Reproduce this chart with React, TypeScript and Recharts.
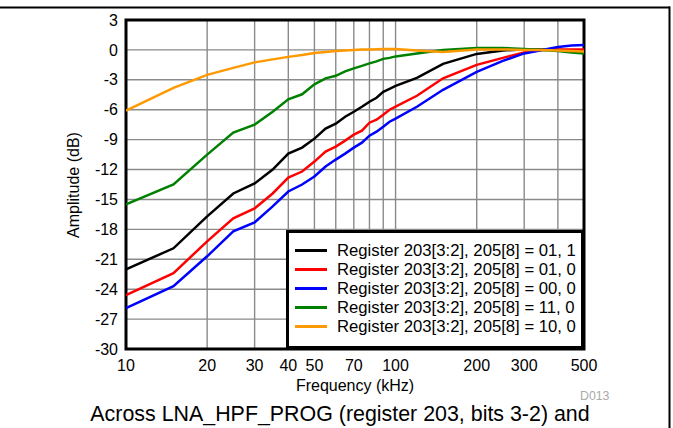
import React from "react";
import {
  LineChart,
  Line,
  XAxis,
  YAxis,
  CartesianGrid,
  Legend,
  ReferenceArea,
} from "recharts";

// Frequency points (kHz)
const freqs = [10, 15, 20, 25, 30, 35, 40, 45, 50, 55, 60, 65, 70, 75, 80, 85, 90, 95, 100, 120, 150, 200, 250, 300, 350, 400, 450, 500];

// Amplitude (dB) per register setting
const reg01_1 = [-22.0, -19.9, -16.7, -14.4, -13.4, -12.0, -10.4, -9.8, -8.9, -7.9, -7.4, -6.7, -6.2, -5.7, -5.2, -4.8, -4.2, -3.9, -3.6, -2.8, -1.4, -0.4, -0.05, 0.05, 0.05, 0.0, -0.05, -0.1];
const reg01_0 = [-24.6, -22.4, -19.2, -16.9, -15.9, -14.4, -12.8, -12.2, -11.2, -10.2, -9.7, -9.1, -8.5, -8.1, -7.3, -7.0, -6.5, -6.0, -5.7, -4.6, -2.85, -1.5, -0.8, -0.25, 0.0, 0.05, 0.05, 0.05];
const reg00_0 = [-25.9, -23.7, -20.7, -18.2, -17.3, -15.7, -14.2, -13.5, -12.7, -11.7, -11.0, -10.4, -9.8, -9.3, -8.6, -8.2, -7.7, -7.2, -6.9, -5.7, -4.0, -2.2, -1.1, -0.35, 0.0, 0.3, 0.45, 0.5];
const reg11_0 = [-15.5, -13.5, -10.5, -8.3, -7.5, -6.2, -4.95, -4.45, -3.45, -2.85, -2.6, -2.15, -1.85, -1.6, -1.35, -1.15, -0.9, -0.8, -0.65, -0.35, 0.0, 0.2, 0.2, 0.1, 0.0, -0.1, -0.25, -0.35];
const reg10_0 = [-6.1, -3.8, -2.5, -1.8, -1.25, -0.95, -0.7, -0.5, -0.3, -0.2, -0.12, -0.06, 0.0, 0.03, 0.05, 0.07, 0.08, 0.1, 0.1, -0.05, -0.2, 0.05, 0.05, 0.0, 0.0, -0.05, -0.1, -0.15];

const xTicks = [10, 20, 30, 40, 50, 70, 100, 200, 300, 500];
const xGrid = [20, 30, 40, 50, 60, 70, 80, 90, 100, 200, 300, 400];
const yTicks = [-30, -27, -24, -21, -18, -15, -12, -9, -6, -3, 0, 3];

const seriesNames = [
  "Register 203[3:2], 205[8] = 01, 1",
  "Register 203[3:2], 205[8] = 01, 0",
  "Register 203[3:2], 205[8] = 00, 0",
  "Register 203[3:2], 205[8] = 11, 0",
  "Register 203[3:2], 205[8] = 10, 0",
];
const seriesKeys = ["s0", "s1", "s2", "s3", "s4"];
const seriesColors = ["#000000", "#ff0000", "#0000ff", "#008000", "#ff9900"];
const seriesValues = [reg01_1, reg01_0, reg00_0, reg11_0, reg10_0];

const data = freqs.map((f, i) => {
  const row: Record<string, number> = { f };
  seriesKeys.forEach((k, j) => {
    row[k] = seriesValues[j][i];
  });
  return row;
});

const FONT = "Arial, 'Liberation Sans', sans-serif";

const LegendBox = () => (
  <div
    style={{
      boxSizing: "border-box",
      width: 298,
      height: 119,
      border: "3px solid #000",
      background: "#fff",
      paddingTop: 8,
      fontFamily: FONT,
      fontSize: 16.7,
      color: "#000",
      lineHeight: "19px",
    }}
  >
    {seriesNames.map((n, i) => (
      <div key={n} style={{ height: 19, display: "flex", alignItems: "center", whiteSpace: "nowrap" }}>
        <div style={{ width: 32, height: 3, background: seriesColors[i], marginLeft: 6, marginRight: 10, flex: "none" }} />
        <span>{n}</span>
      </div>
    ))}
  </div>
);

export default function App() {
  return (
    <div style={{ position: "absolute", left: 0, top: 0, width: 673, height: 428, background: "#fff" }}>
      <LineChart
        width={673}
        height={428}
        data={data}
        margin={{ top: 20, right: 89, bottom: 0, left: 0 }}
      >
        <CartesianGrid
          stroke="#8a8a8a"
          strokeWidth={1.4}
          verticalValues={xGrid}
          horizontalValues={yTicks}
        />
        <XAxis
          dataKey="f"
          type="number"
          scale="log"
          domain={[10, 500]}
          ticks={xTicks}
          interval={0}
          allowDataOverflow
          axisLine={false}
          tickLine={false}
          tickMargin={5}
          height={79}
          tick={{ fill: "#000", fontSize: 16, fontFamily: FONT }}
        />
        <YAxis
          type="number"
          domain={[-30, 3]}
          ticks={yTicks}
          interval={0}
          allowDataOverflow
          axisLine={false}
          tickLine={false}
          width={126}
          tick={{ fill: "#000", fontSize: 16, fontFamily: FONT }}
        />
        {seriesKeys.map((k, i) => (
          <Line
            key={k}
            dataKey={k}
            name={seriesNames[i]}
            type="linear"
            stroke={seriesColors[i]}
            strokeWidth={2.5}
            dot={false}
            activeDot={false}
            isAnimationActive={false}
          />
        ))}
        <ReferenceArea
          x1={10}
          x2={500}
          y1={-30}
          y2={3}
          fill="none"
          fillOpacity={0}
          stroke="#000"
          strokeWidth={3}
          strokeOpacity={1}
          ifOverflow="visible"
        />
        <Legend
          layout="horizontal"
          verticalAlign="middle"
          align="center"
          content={() => <LegendBox />}
          wrapperStyle={{ position: "absolute", left: 286, top: 230, width: 298, height: 119, bottom: "auto", right: "auto", margin: 0 }}
        />
      </LineChart>
      <svg
        width={673}
        height={428}
        style={{ position: "absolute", left: 0, top: 0, pointerEvents: "none" }}
      >
        <line x1={0} y1={7.5} x2={670} y2={7.5} stroke="#000" strokeWidth={2} />
        <line x1={669.5} y1={6.5} x2={669.5} y2={428} stroke="#000" strokeWidth={2} />
        <text
          x={73}
          y={185}
          transform="rotate(-90 73 185)"
          textAnchor="middle"
          dominantBaseline="central"
          fontFamily={FONT}
          fontSize={16}
          fill="#000"
        >
          Amplitude (dB)
        </text>
        <text x={355} y={391} textAnchor="middle" fontFamily={FONT} fontSize={16} fill="#000">
          Frequency (kHz)
        </text>
        <text x={580} y={400} fontFamily={FONT} fontSize={12.3} fill="#aaaaaa">
          D013
        </text>
        <text x={340} y={421} textAnchor="middle" fontFamily={FONT} fontSize={21.4} fill="#000">
          Across LNA_HPF_PROG (register 203, bits 3-2) and
        </text>
      </svg>
    </div>
  );
}
